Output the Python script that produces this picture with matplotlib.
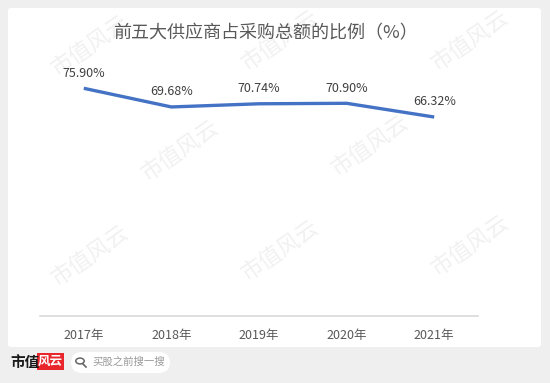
import matplotlib
matplotlib.use("Agg")
import matplotlib.pyplot as plt
from matplotlib.patches import FancyBboxPatch, Rectangle, Circle
from matplotlib.lines import Line2D

plt.rcParams['font.family'] = ['Noto Sans CJK SC', 'DejaVu Sans']

years = ["2017年", "2018年", "2019年", "2020年", "2021年"]
ratios = [75.90, 69.68, 70.74, 70.90, 66.32]
labels = ["75.90%", "69.68%", "70.74%", "70.90%", "66.32%"]
title = "前五大供应商占采购总额的比例（%）"

W, H = 550, 383
fig = plt.figure(figsize=(W / 100, H / 100), dpi=100)
fig.patch.set_facecolor("#efefef")

def px(x, y):
    return x / W, 1 - y / H

# white panel
x0, y0 = px(8, 347)
panel = FancyBboxPatch((x0, y0), 533 / W, 339 / H,
                       boxstyle="round,pad=0,rounding_size=0.006",
                       transform=fig.transFigure, facecolor="white",
                       edgecolor="none", zorder=0)
fig.patches.append(panel)

# watermarks
wm_pos = [(90, 45), (280, 40), (470, 40), (180, 150), (370, 145),
          (90, 255), (280, 250), (470, 245)]
for (wx, wy) in wm_pos:
    fx, fy = px(wx, wy)
    fig.text(fx, fy, "市值风云", fontsize=16, color="#f1f1f1", rotation=35,
             ha="center", va="center", zorder=1)

# plot axes
left, bottom = 40 / W, 1 - 316 / H
ax = fig.add_axes([left, bottom, 438 / W, 240 / H])
ax.patch.set_alpha(0)
ax.set_zorder(2)
xs = list(range(len(years)))
ax.plot(xs, ratios, color="#4472C4", linewidth=2.4, solid_capstyle="butt",
        solid_joinstyle="round")
for x, v, lab in zip(xs, ratios, labels):
    ax.annotate(lab, (x, v), xytext=(0, 11), textcoords="offset points",
                ha="center", va="center", fontsize=9, color="#404040")
ax.set_xlim(-0.5, len(years) - 0.5)
ax.set_ylim(0, 80)
ax.set_xticks(xs)
ax.set_xticklabels(years, fontsize=9, color="#595959")
ax.tick_params(axis="x", length=0, pad=9)
ax.set_yticks([])
for s in ["top", "right", "left"]:
    ax.spines[s].set_visible(False)
ax.spines["bottom"].set_color("#d9d9d9")
ax.spines["bottom"].set_linewidth(1.2)

# title
tx, ty = px(265, 33)
fig.text(tx, ty, title, fontsize=13, color="#595959", ha="center", va="center")

# bottom logo
lx, ly = px(10, 362)
fig.text(lx, ly, "市值", fontsize=10.5, color="#1a1a1a", fontweight="bold",
         ha="left", va="center")
rx, ry = px(37, 370)
fig.patches.append(Rectangle((rx, ry), 27 / W, 17 / H, transform=fig.transFigure,
                             facecolor="#e8262b", edgecolor="none"))
cx, cy = px(50.5, 361.5)
fig.text(cx, cy, "风云", fontsize=9, color="white", style="italic",
         ha="center", va="center", fontweight="bold")

# search box
sx, sy = px(71, 373)
fig.patches.append(FancyBboxPatch((sx, sy), 99 / W, 21 / H,
                                  boxstyle="round,pad=0,rounding_size=0.02",
                                  transform=fig.transFigure, facecolor="white",
                                  edgecolor="none", mutation_aspect=W / H))
mx, my = px(80, 361)
fig.patches.append(Circle((mx, my), 4.2 / W, transform=fig.transFigure,
                          facecolor="none", edgecolor="#666666", linewidth=1.1))
a1 = px(83, 364)
a2 = px(86, 367)
fig.lines.append(Line2D([a1[0], a2[0]], [a1[1], a2[1]], transform=fig.transFigure,
                        color="#666666", linewidth=1.2))
qx, qy = px(92, 362)
fig.text(qx, qy, "买股之前搜一搜", fontsize=7.5, color="#999999",
         ha="left", va="center")

fig.savefig("out.png", dpi=100, facecolor=fig.get_facecolor())
